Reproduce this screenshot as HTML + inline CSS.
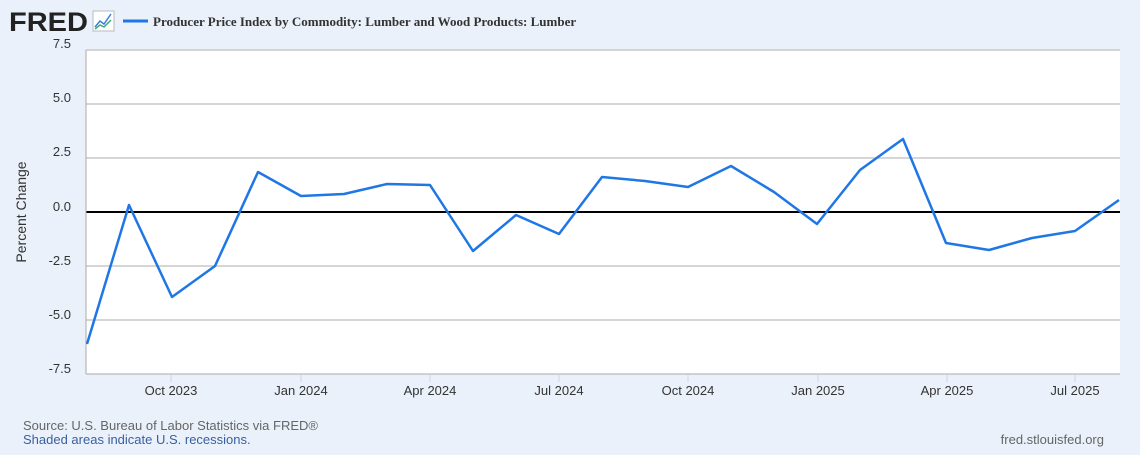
<!DOCTYPE html>
<html><head><style>
body{margin:0;width:1140px;height:450px;background:#eaf1fa;font-family:"Liberation Sans",sans-serif;overflow:hidden}
</style></head><body>
<svg width="1140" height="450" xmlns="http://www.w3.org/2000/svg" font-family="Liberation Sans, sans-serif">
<text x="9" y="31" font-size="27" font-weight="bold" fill="#222" textLength="79" lengthAdjust="spacingAndGlyphs">FRED</text>
<rect x="93" y="11" width="21" height="20" fill="#fff" stroke="#bbb"/>
<polyline points="95,27 100,21 104,24 111,14" fill="none" stroke="#3a7fd5" stroke-width="1.5"/>
<polyline points="95,29 100,25 104,27 111,20" fill="none" stroke="#3aaa80" stroke-width="1.5"/>
<line x1="123" y1="21" x2="148" y2="21" stroke="#1f77e5" stroke-width="3"/>
<text x="153" y="26" font-family="Liberation Serif, serif" font-weight="bold" font-size="13" fill="#333">Producer Price Index by Commodity: Lumber and Wood Products: Lumber</text>
<rect x="86" y="50" width="1034" height="324" fill="#fff"/>
<g stroke="#c8c8c8" stroke-width="1.5">
<line x1="86" y1="104" x2="1120" y2="104"/><line x1="86" y1="158" x2="1120" y2="158"/>
<line x1="86" y1="266" x2="1120" y2="266"/><line x1="86" y1="320" x2="1120" y2="320"/>
<line x1="86" y1="50" x2="1120" y2="50"/>
</g>
<line x1="86" y1="212" x2="1120" y2="212" stroke="#000" stroke-width="2"/>
<line x1="86" y1="50" x2="86" y2="374" stroke="#aaa"/>
<line x1="86" y1="374" x2="1120" y2="374" stroke="#aaa"/>
<g stroke="#ccd6e6">
<line x1="171" y1="375" x2="171" y2="382"/><line x1="301" y1="375" x2="301" y2="382"/><line x1="430" y1="375" x2="430" y2="382"/><line x1="559" y1="375" x2="559" y2="382"/><line x1="688" y1="375" x2="688" y2="382"/><line x1="818" y1="375" x2="818" y2="382"/><line x1="947" y1="375" x2="947" y2="382"/><line x1="1075" y1="375" x2="1075" y2="382"/>
</g>
<g font-size="13" fill="#333" text-anchor="middle">
<text x="171" y="395">Oct 2023</text><text x="301" y="395">Jan 2024</text><text x="430" y="395">Apr 2024</text><text x="559" y="395">Jul 2024</text><text x="688" y="395">Oct 2024</text><text x="818" y="395">Jan 2025</text><text x="947" y="395">Apr 2025</text><text x="1075" y="395">Jul 2025</text>
</g>
<g font-size="13" fill="#333" text-anchor="end">
<text x="71" y="48">7.5</text><text x="71" y="102">5.0</text><text x="71" y="156">2.5</text><text x="71" y="211">0.0</text><text x="71" y="265">-2.5</text><text x="71" y="319">-5.0</text><text x="71" y="373">-7.5</text>
</g>
<text transform="translate(26,212) rotate(-90)" font-size="14" fill="#333" text-anchor="middle">Percent Change</text>
<polyline fill="none" stroke="#1f77e5" stroke-width="2.5" stroke-linejoin="round" points="87,344 129,205 172,297 215,266 258,172 301,196 344,194 387,184 430,185 473,251 516,215 559,234 602,177 645,181 688,187 731,166 774,192 817,224 860,170 903,139 946,243 989,250 1032,238 1075,231 1119,200"/>
<text x="23" y="430" font-size="13" fill="#666">Source: U.S. Bureau of Labor Statistics via FRED®</text>
<text x="23" y="444" font-size="13" fill="#3a5fa0">Shaded areas indicate U.S. recessions.</text>
<text x="1104" y="444" font-size="13" fill="#666" text-anchor="end">fred.stlouisfed.org</text>
</svg>
</body></html>
